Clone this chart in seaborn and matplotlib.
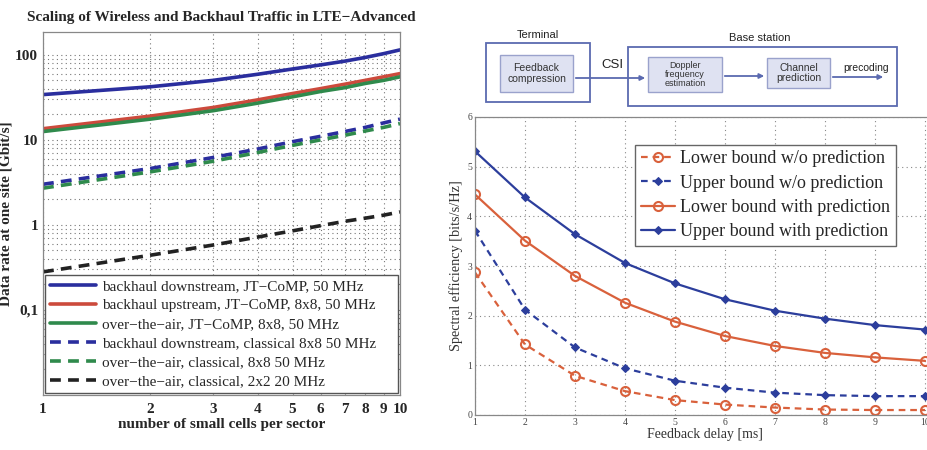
import numpy as np
import pandas as pd
import matplotlib
matplotlib.use("Agg")
import matplotlib.pyplot as plt
import seaborn as sns
from matplotlib.patches import FancyBboxPatch, Rectangle
from matplotlib.ticker import FixedLocator, FixedFormatter, NullFormatter, LogLocator

# ---------------- data: left panel ----------------
cells = [1, 2, 3, 4, 5, 6, 7, 8, 9, 10]
bh_down_jt = [34, 42, 50, 59, 68, 76, 84, 93, 103, 114]
bh_up_jt = [13.5, 19, 24, 29.5, 35, 40, 45, 50, 55, 60]
ota_jt = [12.5, 17.5, 22, 27, 32, 37, 41, 46, 50, 55]
bh_down_cl = [3.0, 4.6, 6.2, 7.8, 9.5, 11, 12.5, 14, 15.8, 17.5]
ota_cl8 = [2.7, 4.2, 5.6, 7.1, 8.6, 10, 11.3, 12.7, 14, 15.5]
ota_cl2 = [0.28, 0.44, 0.58, 0.72, 0.85, 0.98, 1.1, 1.2, 1.3, 1.42]
left_labels = [
    "backhaul downstream, JT\u2212CoMP, 50 MHz",
    "backhaul upstream, JT\u2212CoMP, 8x8, 50 MHz",
    "over\u2212the\u2212air, JT\u2212CoMP, 8x8, 50 MHz",
    "backhaul downstream, classical 8x8 50 MHz",
    "over\u2212the\u2212air, classical, 8x8 50 MHz",
    "over\u2212the\u2212air, classical, 2x2 20 MHz",
]
left_yticks = [0.1, 1, 10, 100]
left_yticklabels = ["0,1", "1", "10", "100"]

# ---------------- data: right panel ----------------
delay = [1, 2, 3, 4, 5, 6, 7, 8, 9, 10]
lower_wo = [2.87, 1.42, 0.79, 0.48, 0.30, 0.21, 0.15, 0.11, 0.10, 0.10]
upper_wo = [3.71, 2.12, 1.36, 0.94, 0.69, 0.55, 0.45, 0.40, 0.38, 0.38]
lower_w = [4.44, 3.51, 2.80, 2.26, 1.88, 1.59, 1.39, 1.25, 1.16, 1.09]
upper_w = [5.31, 4.38, 3.64, 3.06, 2.65, 2.33, 2.10, 1.94, 1.81, 1.72]
right_labels = ["Lower bound w/o prediction", "Upper bound w/o prediction",
                "Lower bound with prediction", "Upper bound with prediction"]

sns.set_theme(style="white")
plt.rcParams["font.family"] = ["Liberation Serif", "DejaVu Serif"]

W, H = 927, 450
fig = plt.figure(figsize=(W / 100, H / 100), dpi=100)


def pos(x0, x1, y0, y1):
    return [x0 / W, 1 - y1 / H, (x1 - x0) / W, (y1 - y0) / H]

# ================= left panel =================
axL = fig.add_axes(pos(43, 400, 32, 395))
blue, red, green, black = "#2a2e9e", "#cc4a3c", "#2f8a4c", "#222222"
left_series = [bh_down_jt, bh_up_jt, ota_jt, bh_down_cl, ota_cl8, ota_cl2]
left_colors = [blue, red, green, blue, green, black]
left_styles = ["-", "-", "-", (0, (3, 2)), (0, (3, 2)), (0, (3, 2))]
for vals, c, ls, lab in zip(left_series, left_colors, left_styles, left_labels):
    sns.lineplot(x=cells, y=vals, ax=axL, color=c, linestyle=ls, linewidth=2.6,
                 label=lab)
axL.set_xscale("log")
axL.set_yscale("log")
axL.set_xlim(1, 10)
axL.set_ylim(0.01, 185)
axL.xaxis.set_major_locator(FixedLocator(cells))
axL.xaxis.set_major_formatter(FixedFormatter([str(c) for c in cells]))
axL.xaxis.set_minor_formatter(NullFormatter())
axL.yaxis.set_major_locator(FixedLocator(left_yticks))
axL.yaxis.set_major_formatter(FixedFormatter(left_yticklabels))
axL.yaxis.set_minor_locator(LogLocator(base=10, subs=np.arange(2, 10)))
axL.yaxis.set_minor_formatter(NullFormatter())
axL.grid(True, which="both", linestyle=(0, (1, 3)), color="#777777", linewidth=0.8)
axL.tick_params(axis="both", which="both", direction="in", length=3, labelsize=11)
axL.tick_params(axis="x", pad=6)
for t in axL.get_xticklabels() + axL.get_yticklabels():
    t.set_fontweight("bold")
for s in axL.spines.values():
    s.set_color("#888888")
    s.set_linewidth(0.9)
axL.set_xlabel("number of small cells per sector", fontsize=11, fontweight="bold", labelpad=1)
axL.set_ylabel("Data rate at one site [Gbit/s]", fontsize=11, fontweight="bold", labelpad=2)
axL.set_title("Scaling of Wireless and Backhaul Traffic in LTE\u2212Advanced",
              fontsize=11, fontweight="bold", pad=8)
legL = axL.legend(loc="lower left", bbox_to_anchor=(0.006, 0.006, 0.988, 0.36),
                  mode="expand", borderaxespad=0, fontsize=11, handlelength=3.0,
                  labelspacing=0.35, handletextpad=0.4, fancybox=False,
                  edgecolor="#555555", framealpha=1, borderpad=0.3)

# ================= right panel =================
axR = fig.add_axes(pos(475, 935, 117, 415))
orange, dblue = "#d9613c", "#2c3e9c"
sns.lineplot(x=delay, y=lower_wo, ax=axR, color=orange, linestyle=(0, (3, 2.2)),
             linewidth=1.6, marker="o", markersize=6.5, markerfacecolor="none",
             markeredgecolor=orange, markeredgewidth=1.5, label=right_labels[0])
sns.lineplot(x=delay, y=upper_wo, ax=axR, color=dblue, linestyle=(0, (3, 2.2)),
             linewidth=1.6, marker="D", markersize=4.5, markerfacecolor=dblue,
             markeredgecolor=dblue, label=right_labels[1])
sns.lineplot(x=delay, y=lower_w, ax=axR, color=orange, linestyle="-",
             linewidth=1.6, marker="o", markersize=6.5, markerfacecolor="none",
             markeredgecolor=orange, markeredgewidth=1.5, label=right_labels[2])
sns.lineplot(x=delay, y=upper_w, ax=axR, color=dblue, linestyle="-",
             linewidth=1.6, marker="D", markersize=4.5, markerfacecolor=dblue,
             markeredgecolor=dblue, label=right_labels[3])
axR.set_xlim(1, 10.2)
axR.set_ylim(0, 6)
axR.set_xticks(delay)
axR.set_yticks([0, 1, 2, 3, 4, 5, 6])
axR.grid(True, linestyle=(0, (1, 3)), color="#888888", linewidth=0.8)
axR.tick_params(axis="both", direction="in", length=3, labelsize=7,
                labelcolor="#444444", pad=2)
for s in axR.spines.values():
    s.set_color("#888888")
    s.set_linewidth(0.9)
axR.set_xlabel("Feedback delay [ms]", fontsize=10, color="#333333", labelpad=1)
axR.set_ylabel("Spectral efficiency [bits/s/Hz]", fontsize=10.3, color="#333333", labelpad=3)
legR = axR.legend(loc="upper right", bbox_to_anchor=(0.915, 0.906), borderaxespad=0,
                  fontsize=13, handlelength=1.9, labelspacing=0.4,
                  handletextpad=0.3, fancybox=False, edgecolor="#666666",
                  framealpha=1, borderpad=0.3)

# ================= block diagram =================
axD = fig.add_axes([460 / W, 1 - 112 / H, (927 - 460) / W, (112 - 22) / H])
axD.set_xlim(460, 927)
axD.set_ylim(112, 22)
axD.axis("off")
dfont = ["Liberation Sans", "DejaVu Sans"]
ob = "#5b6ab0"
axD.add_patch(Rectangle((486, 43), 104, 59, fill=False, edgecolor=ob, linewidth=1.3))
axD.add_patch(Rectangle((628, 47), 269, 59, fill=False, edgecolor=ob, linewidth=1.3))
ib_face, ib_edge = "#dfe2f2", "#9aa2cc"
for (x0, y0, w, h, txt) in [(500, 55, 73, 37, "Feedback\ncompression"),
                            (648, 57, 74, 35, "Doppler\nfrequency\nestimation"),
                            (767, 58, 63, 30, "Channel\nprediction")]:
    axD.add_patch(FancyBboxPatch((x0, y0), w, h, boxstyle="square,pad=0",
                                 facecolor=ib_face, edgecolor=ib_edge, linewidth=1.0))
    fs = 6.5 if txt.count("\n") == 2 else 7.5
    axD.text(x0 + w / 2, y0 + h / 2, txt, ha="center", va="center", fontsize=fs,
             family=dfont, color="#333333", linespacing=1.05)
axD.text(538, 35, "Terminal", ha="center", va="center", fontsize=8, family=dfont, color="#222222")
axD.text(760, 38, "Base station", ha="center", va="center", fontsize=8, family=dfont, color="#222222")
axD.text(612, 65, "CSI", ha="center", va="center", fontsize=9.5, family=dfont, color="#222222")
axD.text(866, 68, "precoding", ha="center", va="center", fontsize=7.5, family=dfont, color="#222222")
ac = "#5b6ab0"
for (xa, xb, yy) in [(573, 648, 78), (722, 767, 76), (830, 886, 77)]:
    axD.annotate("", xy=(xb, yy), xytext=(xa, yy),
                 arrowprops=dict(arrowstyle="-|>", color=ac, lw=1.3, mutation_scale=7))

fig.savefig("out.png", dpi=100)
